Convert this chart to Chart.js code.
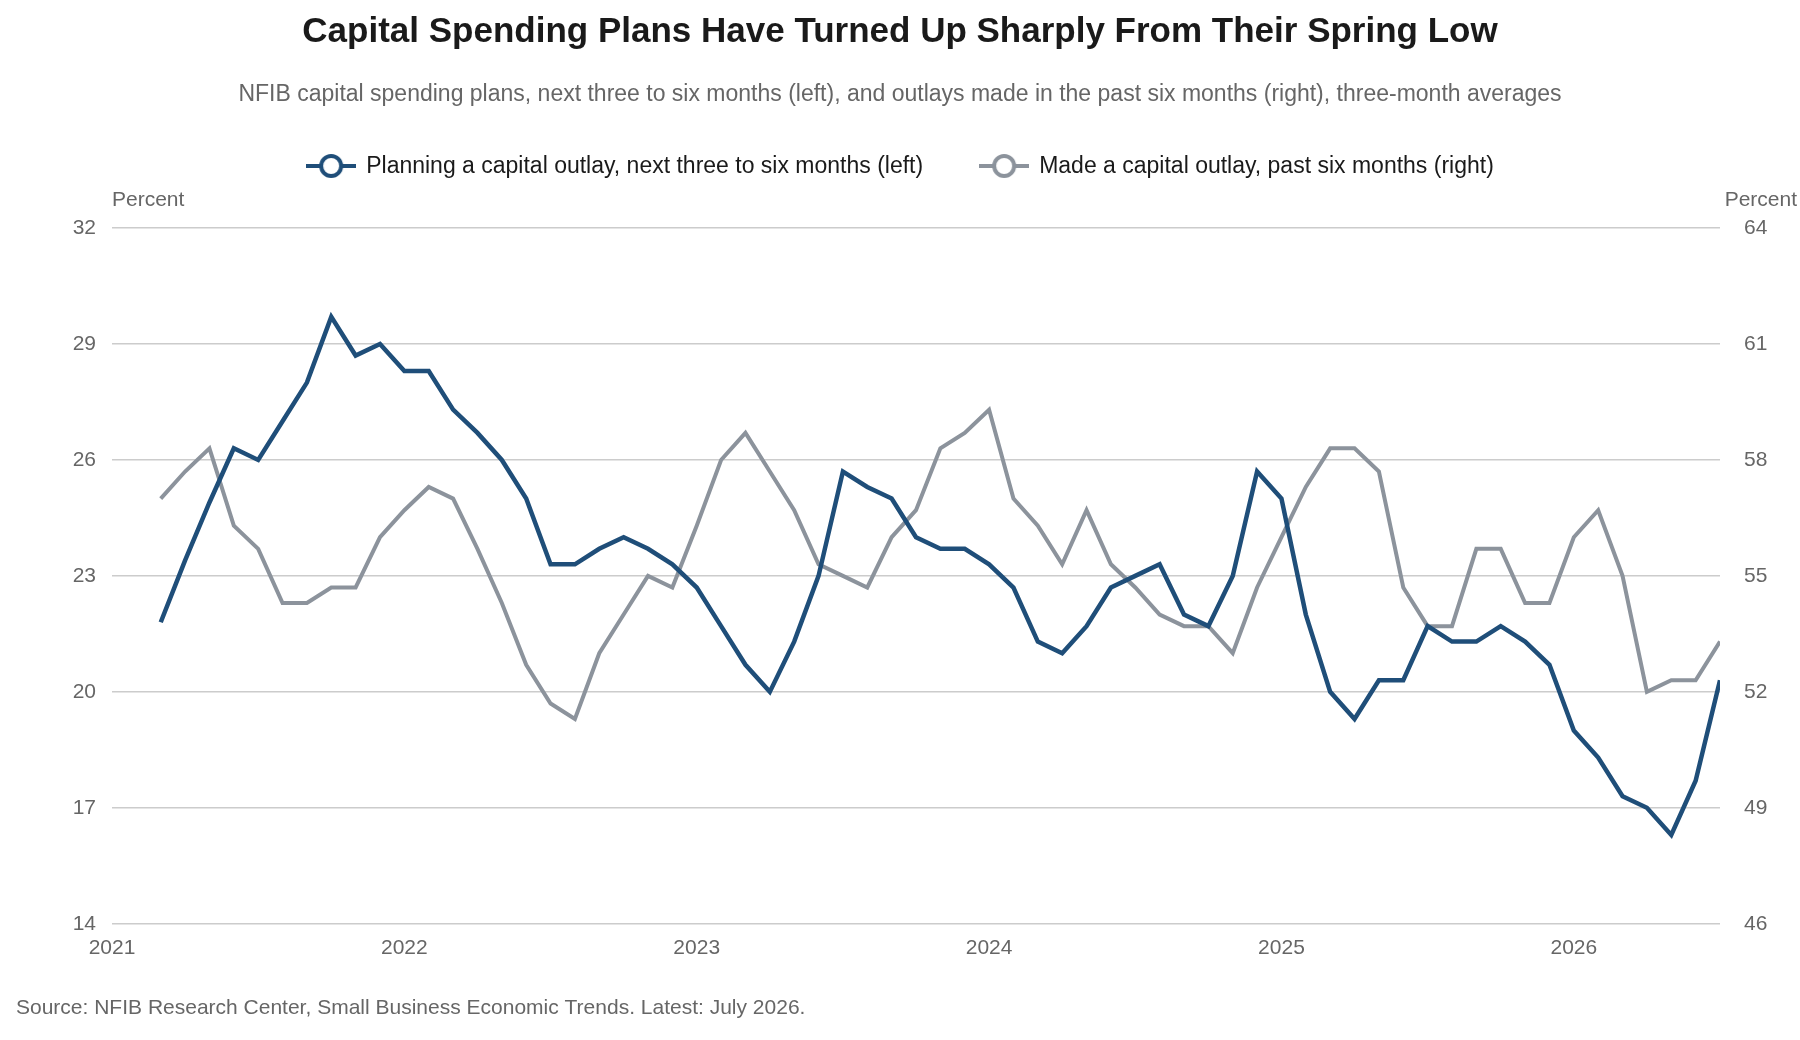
<!DOCTYPE html>
<html>
<head>
<meta charset="utf-8">
<script src="https://cdn.jsdelivr.net/npm/chart.js@4/dist/chart.umd.min.js"></script>
<style>
  html, body { margin: 0; padding: 0; background: #fff; }
  #wrap { width: 1800px; height: 1040px; position: relative; }
</style>
</head>
<body>
<div id="wrap"><canvas id="chart" width="1800" height="1040"></canvas></div>
<script>
// monthly, March 2021 .. July 2026 (months counted from Jan 2021)
const startMonth = 2;
const yearLabels = ['2021', '2022', '2023', '2024', '2025', '2026'];
const leftTicks = [14, 17, 20, 23, 26, 29, 32];
const rightTicks = [46, 49, 52, 55, 58, 61, 64];

const planning = [
    21.8, 23.4, 24.9, 26.3, 26.0, 27.0, 28.0, 29.7, 28.7, 29.0,
    28.3, 28.3, 27.3, 26.7, 26.0, 25.0, 23.3, 23.3, 23.7, 24.0, 23.7, 23.3,
    22.7, 21.7, 20.7, 20.0, 21.3, 23.0, 25.7, 25.3, 25.0, 24.0, 23.7, 23.7,
    23.3, 22.7, 21.3, 21.0, 21.7, 22.7, 23.0, 23.3, 22.0, 21.7, 23.0, 25.7,
    25.0, 22.0, 20.0, 19.3, 20.3, 20.3, 21.7, 21.3, 21.3, 21.7, 21.3, 20.7,
    19.0, 18.3, 17.3, 17.0, 16.3, 17.7, 20.3
];
const made = [
    57.0, 57.7, 58.3, 56.3, 55.7, 54.3, 54.3, 54.7, 54.7, 56.0,
    56.7, 57.3, 57.0, 55.7, 54.3, 52.7, 51.7, 51.3, 53.0, 54.0, 55.0, 54.7,
    56.3, 58.0, 58.7, 57.7, 56.7, 55.3, 55.0, 54.7, 56.0, 56.7, 58.3, 58.7,
    59.3, 57.0, 56.3, 55.3, 56.7, 55.3, 54.7, 54.0, 53.7, 53.7, 53.0, 54.7,
    56.0, 57.3, 58.3, 58.3, 57.7, 54.7, 53.7, 53.7, 55.7, 55.7, 54.3, 54.3,
    56.0, 56.7, 55.0, 52.0, 52.3, 52.3, 53.3
];

const BLUE = '#1f4e79';
const GRAY = '#8c939c';
const FONT = '"Liberation Sans", Arial, sans-serif';

const toPoints = arr => arr.map((v, i) => ({ x: startMonth + i, y: v }));

function legendIcon(color) {
    const c = document.createElement('canvas');
    c.width = 50; c.height = 26;
    const g = c.getContext('2d');
    g.strokeStyle = color; g.lineWidth = 4;
    g.beginPath(); g.moveTo(0, 13); g.lineTo(50, 13); g.stroke();
    g.fillStyle = '#fff'; g.lineWidth = 4;
    g.beginPath(); g.arc(25, 13, 10, 0, Math.PI * 2); g.fill(); g.stroke();
    return c;
}

const textPlugin = {
    id: 'texts',
    afterDraw(chart) {
        const ctx = chart.ctx;
        const a = chart.chartArea;
        ctx.save();
        ctx.textBaseline = 'middle';
        ctx.fillStyle = '#1a1a1a';
        ctx.textAlign = 'center';
        ctx.font = 'bold 35px ' + FONT;
        ctx.fillText('Capital Spending Plans Have Turned Up Sharply From Their Spring Low', 900, 32);
        ctx.fillStyle = '#666';
        ctx.font = '23px ' + FONT;
        ctx.fillText('NFIB capital spending plans, next three to six months (left), and outlays made in the past six months (right), three-month averages', 900, 95);

        // legend
        const items = [
            [BLUE, 'Planning a capital outlay, next three to six months (left)'],
            [GRAY, 'Made a capital outlay, past six months (right)']
        ];
        ctx.font = '23px ' + FONT;
        ctx.textAlign = 'left';
        const gap = 56, iconW = 50, iconGap = 10;
        let total = 0;
        items.forEach(([, t], i) => { total += iconW + iconGap + ctx.measureText(t).width + (i ? 0 : gap); });
        let x = 900 - total / 2;
        items.forEach(([col, t]) => {
            ctx.drawImage(legendIcon(col), x, 166 - 13);
            ctx.fillStyle = '#1a1a1a';
            ctx.fillText(t, x + iconW + iconGap, 167);
            x += iconW + iconGap + ctx.measureText(t).width + gap;
        });

        ctx.fillStyle = '#666';
        ctx.font = '21px ' + FONT;
        ctx.fillText('Percent', a.left, 200);
        ctx.textAlign = 'right';
        ctx.fillText('Percent', 1797, 200);
        ctx.textAlign = 'left';
        ctx.fillText('Source: NFIB Research Center, Small Business Economic Trends. Latest: July 2026.', 16, 1008);
        ctx.restore();
    }
};

new Chart(document.getElementById('chart'), {
    type: 'line',
    data: {
        datasets: [
            {
                label: 'Planning a capital outlay, next three to six months (left)',
                data: toPoints(planning),
                yAxisID: 'yL',
                borderColor: BLUE,
                borderWidth: 4.5,
                pointRadius: 0,
                tension: 0
            },
            {
                label: 'Made a capital outlay, past six months (right)',
                data: toPoints(made),
                yAxisID: 'yR',
                borderColor: GRAY,
                borderWidth: 4,
                pointRadius: 0,
                tension: 0
            }
        ]
    },
    options: {
        responsive: false,
        animation: false,
        layout: { padding: { top: 228, bottom: 75, left: 0, right: 0 } },
        plugins: { legend: { display: false }, tooltip: { enabled: false } },
        scales: {
            x: {
                type: 'linear',
                min: 0,
                max: 66,
                afterBuildTicks: axis => {
                    axis.ticks = yearLabels.map((_, i) => ({ value: i * 12 }));
                },
                ticks: {
                    callback: v => yearLabels[v / 12],
                    color: '#666',
                    font: { family: FONT, size: 21 },
                    maxRotation: 0,
                    padding: 4
                },
                grid: { display: false },
                border: { display: false }
            },
            yL: {
                position: 'left',
                min: 14,
                max: 32,
                afterBuildTicks: axis => { axis.ticks = leftTicks.map(v => ({ value: v })); },
                afterFit: axis => { axis.width = 112; },
                ticks: { color: '#666', font: { family: FONT, size: 21 }, padding: 16 },
                grid: { color: '#cccccc', lineWidth: 1.5, drawTicks: false },
                border: { display: false }
            },
            yR: {
                position: 'right',
                min: 46,
                max: 64,
                afterBuildTicks: axis => { axis.ticks = rightTicks.map(v => ({ value: v })); },
                afterFit: axis => { axis.width = 80; },
                ticks: { color: '#666', font: { family: FONT, size: 21 }, padding: 16 },
                grid: { display: false },
                border: { display: false }
            }
        }
    },
    plugins: [textPlugin]
});
</script>
</body>
</html>
